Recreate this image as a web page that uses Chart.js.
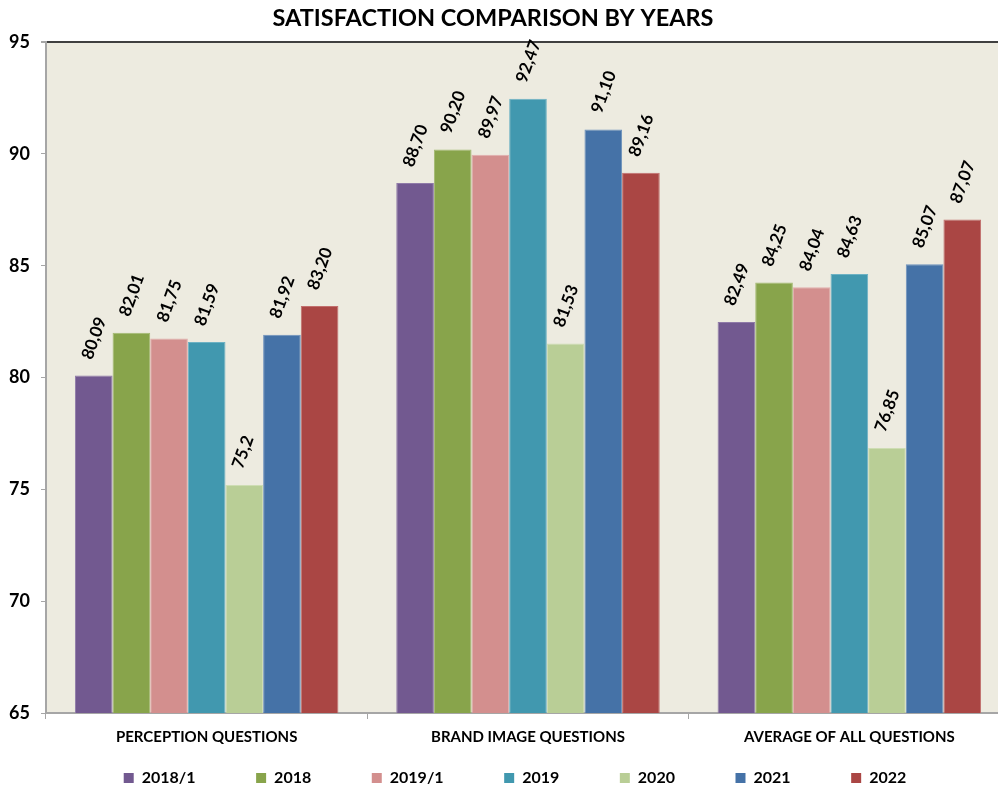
<!DOCTYPE html>
<html>
<head>
<meta charset="utf-8">
<title>Satisfaction comparison by years</title>
<script src="https://cdn.jsdelivr.net/npm/chart.js@4.4.1/dist/chart.umd.min.js"></script>
<style>
    html, body { margin: 0; padding: 0; background: #fff; overflow: hidden; }
    #wrap { width: 998px; height: 792px; overflow: hidden; }
</style>
</head>
<body>
<!-- the plot area runs past the right edge in the original, so the canvas is a bit wider than the page -->
<div id="wrap"><canvas id="chart" width="1010" height="792"></canvas></div>
<script>
// categories + tick values
const categories = ['PERCEPTION QUESTIONS', 'BRAND IMAGE QUESTIONS', 'AVERAGE OF ALL QUESTIONS'];
const years = ['2018/1', '2018', '2019/1', '2019', '2020', '2021', '2022'];
const yTicks = [65, 70, 75, 80, 85, 90, 95];

// values per year, written as shown on the chart (comma decimals)
const v2018_1 = ['80,09', '88,70', '82,49'];
const v2018   = ['82,01', '90,20', '84,25'];
const v2019_1 = ['81,75', '89,97', '84,04'];
const v2019   = ['81,59', '92,47', '84,63'];
const v2020   = ['75,2',  '81,53', '76,85'];
const v2021   = ['81,92', '91,10', '85,07'];
const v2022   = ['83,20', '89,16', '87,07'];

const seriesValues = [v2018_1, v2018, v2019_1, v2019, v2020, v2021, v2022];

const fills   = ['#725990', '#88A44B', '#D38F8E', '#4198AF', '#B9CE96', '#4572A7', '#AA4644'];
const borders = ['#8F7AA8', '#A3BA70', '#E2AEAD', '#6DB2C4', '#CEDDB3', '#6D91BC', '#C26F6D'];

Chart.defaults.font.family = 'Lato, "Open Sans", sans-serif';
Chart.defaults.color = '#000';

function toNumber(s) {
    return parseFloat(s.replace(',', '.'));
}

// beige plot area
const plotBackground = {
    id: 'plotBackground',
    beforeDraw(chart) {
        const a = chart.chartArea;
        const ctx = chart.ctx;
        ctx.save();
        ctx.fillStyle = '#EDEBE0';
        ctx.fillRect(a.left, a.top, a.right - a.left, a.bottom - a.top);
        ctx.restore();
    }
};

// rotated value labels above each bar
const barLabels = {
    id: 'barLabels',
    afterDatasetsDraw(chart) {
        const ctx = chart.ctx;
        ctx.save();
        ctx.font = 'bold 17px Lato, "Open Sans", sans-serif';
        ctx.fillStyle = '#000';
        ctx.textAlign = 'left';
        ctx.textBaseline = 'middle';
        chart.data.datasets.forEach((ds, i) => {
            const meta = chart.getDatasetMeta(i);
            meta.data.forEach((bar, j) => {
                ctx.save();
                ctx.translate(bar.x - 7, bar.y - 17);
                ctx.rotate(-70 * Math.PI / 180);
                ctx.fillText(ds.labelsText[j], 0, 0);
                ctx.restore();
            });
        });
        ctx.restore();
    }
};

// title / legend are not centred on the plot in the original
const shiftBoxes = {
    id: 'shiftBoxes',
    afterLayout(chart) {
        chart.titleBlock.left -= 12;
        chart.titleBlock.right -= 12;
        chart.legend.left += 10;
        chart.legend.right += 10;
    }
};

const datasets = years.map((year, i) => ({
    label: year,
    data: seriesValues[i].map(toNumber),
    labelsText: seriesValues[i],
    backgroundColor: fills[i],
    borderColor: borders[i],
    borderWidth: 1
}));

const ctx = document.getElementById('chart').getContext('2d');
const chart = new Chart(ctx, {
    type: 'bar',
    data: { labels: categories, datasets: datasets },
    options: {
        responsive: false,
        animation: false,
        layout: { padding: { left: 0, right: 0, top: 0, bottom: -4 } },
        datasets: { bar: { categoryPercentage: 0.82, barPercentage: 1 } },
        plugins: {
            title: {
                display: true,
                text: 'SATISFACTION COMPARISON BY YEARS',
                font: { size: 23.5, weight: '700' },
                color: '#000',
                padding: { top: 4, bottom: 10 }
            },
            legend: {
                position: 'bottom',
                labels: {
                    boxWidth: 10,
                    boxHeight: 10,
                    padding: 10,
                    font: { size: 16, weight: '700' },
                    generateLabels(chart) {
                        const c = chart.ctx;
                        c.save();
                        c.font = 'bold 16px Lato, "Open Sans", sans-serif';
                        const spaceW = c.measureText(' ').width;
                        c.restore();
                        const n = Math.round(52 / spaceW);
                        return chart.data.datasets.map((ds, i) => ({
                            text: i < chart.data.datasets.length - 1 ? ds.label + ' '.repeat(n) : ds.label,
                            fillStyle: ds.backgroundColor,
                            strokeStyle: ds.backgroundColor,
                            lineWidth: 0,
                            fontColor: '#000',
                            hidden: false,
                            datasetIndex: i
                        }));
                    }
                }
            },
            tooltip: { enabled: false }
        },
        scales: {
            x: {
                grid: {
                    display: true,
                    drawOnChartArea: false,
                    tickLength: 6,
                    color: '#A6A6A6',
                    offset: true
                },
                border: { color: '#A6A6A6', width: 2 },
                ticks: {
                    padding: 9,
                    font: { size: 15, weight: '700' },
                    color: '#000'
                },
                afterFit(scale) { scale.height = 47; }
            },
            y: {
                min: 65,
                max: 95,
                afterBuildTicks(scale) {
                    scale.ticks = yTicks.map(v => ({ value: v }));
                },
                grid: {
                    drawOnChartArea: true,
                    tickLength: 5,
                    color: c => c.tick && c.tick.value === 95 ? '#404040' : 'rgba(0,0,0,0)',
                    lineWidth: c => c.tick && c.tick.value === 95 ? 2 : 1,
                    tickColor: '#A6A6A6'
                },
                border: { color: '#A6A6A6', width: 2 },
                ticks: {
                    padding: 11,
                    font: { size: 18, weight: '700' },
                    color: '#000'
                },
                afterFit(scale) { scale.width = 46; }
            }
        }
    },
    plugins: [plotBackground, barLabels, shiftBoxes]
});
</script>
</body>
</html>
